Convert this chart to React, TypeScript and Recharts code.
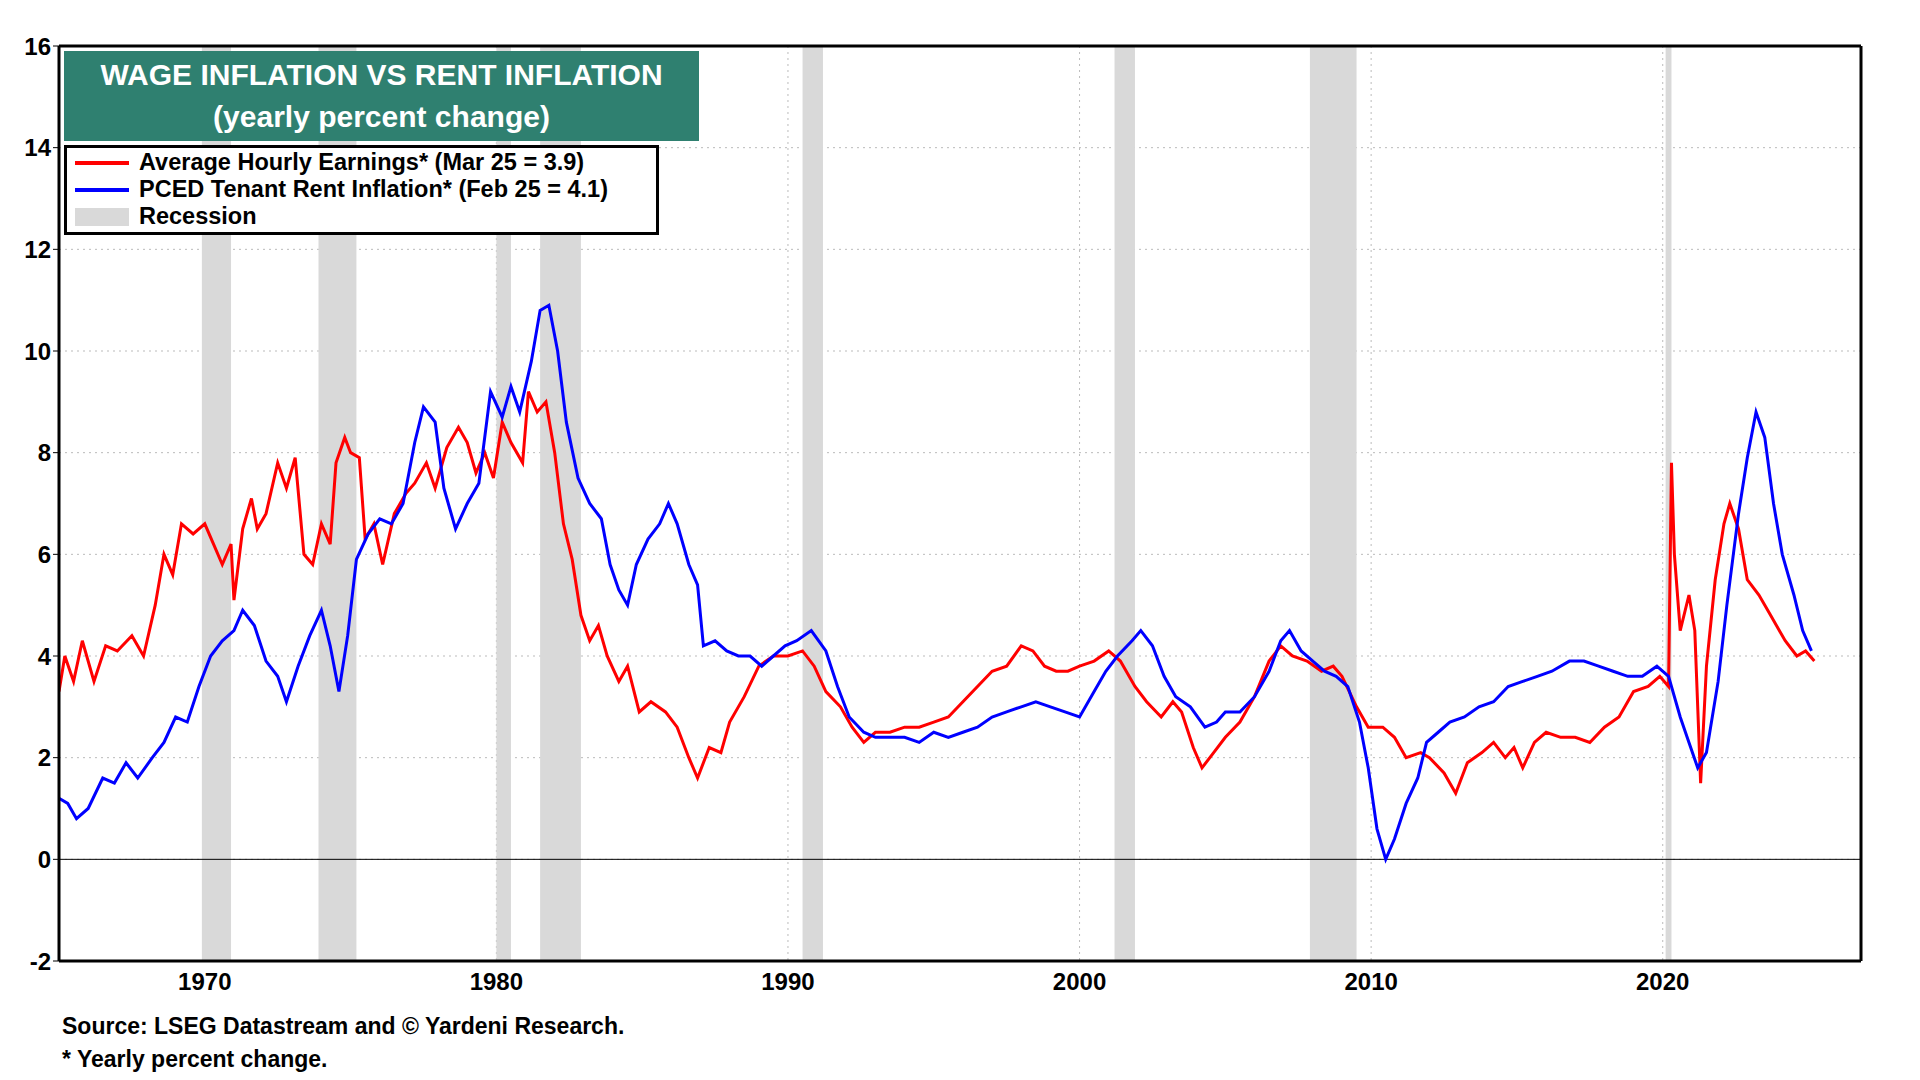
import React from 'react'
import { LineChart, Line, XAxis, YAxis, CartesianGrid, ReferenceArea, ReferenceLine } from 'recharts'

// [year, value]
const ahe: [number, number][] = [
  [1965.0, 3.3], [1965.2, 4.0], [1965.5, 3.5], [1965.8, 4.3], [1966.2, 3.5], [1966.6, 4.2], [1967.0, 4.1], [1967.5, 4.4], [1967.9, 4.0],
  [1968.3, 5.0], [1968.6, 6.0], [1968.9, 5.6], [1969.2, 6.6], [1969.6, 6.4], [1970.0, 6.6], [1970.3, 6.2], [1970.6, 5.8], [1970.9, 6.2],
  [1971.0, 5.1], [1971.3, 6.5], [1971.6, 7.1], [1971.8, 6.5], [1972.1, 6.8], [1972.5, 7.8], [1972.8, 7.3], [1973.1, 7.9], [1973.4, 6.0],
  [1973.7, 5.8], [1974.0, 6.6], [1974.3, 6.2], [1974.5, 7.8], [1974.8, 8.3], [1975.0, 8.0], [1975.3, 7.9], [1975.5, 6.3], [1975.8, 6.6],
  [1976.1, 5.8], [1976.5, 6.8], [1976.9, 7.2], [1977.2, 7.4], [1977.6, 7.8], [1977.9, 7.3], [1978.3, 8.1], [1978.7, 8.5], [1979.0, 8.2],
  [1979.3, 7.6], [1979.6, 8.0], [1979.9, 7.5], [1980.2, 8.6], [1980.5, 8.2], [1980.9, 7.8], [1981.1, 9.2], [1981.4, 8.8], [1981.7, 9.0],
  [1982.0, 8.0], [1982.3, 6.6], [1982.6, 5.9], [1982.9, 4.8], [1983.2, 4.3], [1983.5, 4.6], [1983.8, 4.0], [1984.2, 3.5], [1984.5, 3.8],
  [1984.9, 2.9], [1985.3, 3.1], [1985.8, 2.9], [1986.2, 2.6], [1986.6, 2.0], [1986.9, 1.6], [1987.3, 2.2], [1987.7, 2.1], [1988.0, 2.7],
  [1988.5, 3.2], [1989.0, 3.8], [1989.5, 4.0], [1990.0, 4.0], [1990.5, 4.1], [1990.9, 3.8], [1991.3, 3.3], [1991.8, 3.0], [1992.2, 2.6],
  [1992.6, 2.3], [1993.0, 2.5], [1993.5, 2.5], [1994.0, 2.6], [1994.5, 2.6], [1995.0, 2.7], [1995.5, 2.8], [1996.0, 3.1], [1996.5, 3.4],
  [1997.0, 3.7], [1997.5, 3.8], [1998.0, 4.2], [1998.4, 4.1], [1998.8, 3.8], [1999.2, 3.7], [1999.6, 3.7], [2000.0, 3.8], [2000.5, 3.9],
  [2001.0, 4.1], [2001.4, 3.9], [2001.9, 3.4], [2002.3, 3.1], [2002.8, 2.8], [2003.2, 3.1], [2003.5, 2.9], [2003.9, 2.2], [2004.2, 1.8],
  [2004.6, 2.1], [2005.0, 2.4], [2005.5, 2.7], [2006.0, 3.2], [2006.5, 3.9], [2006.9, 4.2], [2007.3, 4.0], [2007.8, 3.9], [2008.3, 3.7],
  [2008.7, 3.8], [2009.0, 3.6], [2009.5, 3.0], [2009.9, 2.6], [2010.4, 2.6], [2010.8, 2.4], [2011.2, 2.0], [2011.7, 2.1], [2012.0, 2.0],
  [2012.5, 1.7], [2012.9, 1.3], [2013.3, 1.9], [2013.8, 2.1], [2014.2, 2.3], [2014.6, 2.0], [2014.9, 2.2], [2015.2, 1.8], [2015.6, 2.3],
  [2016.0, 2.5], [2016.5, 2.4], [2017.0, 2.4], [2017.5, 2.3], [2018.0, 2.6], [2018.5, 2.8], [2019.0, 3.3], [2019.5, 3.4], [2019.9, 3.6],
  [2020.2, 3.4], [2020.3, 7.8], [2020.4, 6.0], [2020.6, 4.5], [2020.9, 5.2], [2021.1, 4.5], [2021.3, 1.5], [2021.5, 3.8], [2021.8, 5.5],
  [2022.1, 6.6], [2022.3, 7.0], [2022.6, 6.5], [2022.9, 5.5], [2023.3, 5.2], [2023.7, 4.8], [2024.2, 4.3], [2024.6, 4.0], [2024.9, 4.1],
  [2025.2, 3.9],
]

const rent: [number, number][] = [
  [1965.0, 1.2], [1965.3, 1.1], [1965.6, 0.8], [1966.0, 1.0], [1966.5, 1.6], [1966.9, 1.5], [1967.3, 1.9], [1967.7, 1.6], [1968.2, 2.0],
  [1968.6, 2.3], [1969.0, 2.8], [1969.4, 2.7], [1969.8, 3.4], [1970.2, 4.0], [1970.6, 4.3], [1971.0, 4.5], [1971.3, 4.9], [1971.7, 4.6],
  [1972.1, 3.9], [1972.5, 3.6], [1972.8, 3.1], [1973.2, 3.8], [1973.6, 4.4], [1974.0, 4.9], [1974.3, 4.2], [1974.6, 3.3], [1974.9, 4.4],
  [1975.2, 5.9], [1975.6, 6.4], [1976.0, 6.7], [1976.4, 6.6], [1976.8, 7.0], [1977.2, 8.2], [1977.5, 8.9], [1977.9, 8.6], [1978.2, 7.3],
  [1978.6, 6.5], [1979.0, 7.0], [1979.4, 7.4], [1979.8, 9.2], [1980.2, 8.7], [1980.5, 9.3], [1980.8, 8.8], [1981.2, 9.8], [1981.5, 10.8],
  [1981.8, 10.9], [1982.1, 10.0], [1982.4, 8.6], [1982.8, 7.5], [1983.2, 7.0], [1983.6, 6.7], [1983.9, 5.8], [1984.2, 5.3], [1984.5, 5.0],
  [1984.8, 5.8], [1985.2, 6.3], [1985.6, 6.6], [1985.9, 7.0], [1986.2, 6.6], [1986.6, 5.8], [1986.9, 5.4], [1987.1, 4.2], [1987.5, 4.3],
  [1987.9, 4.1], [1988.3, 4.0], [1988.7, 4.0], [1989.1, 3.8], [1989.5, 4.0], [1989.9, 4.2], [1990.3, 4.3], [1990.8, 4.5], [1991.3, 4.1],
  [1991.7, 3.4], [1992.1, 2.8], [1992.6, 2.5], [1993.0, 2.4], [1993.5, 2.4], [1994.0, 2.4], [1994.5, 2.3], [1995.0, 2.5], [1995.5, 2.4],
  [1996.0, 2.5], [1996.5, 2.6], [1997.0, 2.8], [1997.5, 2.9], [1998.0, 3.0], [1998.5, 3.1], [1999.0, 3.0], [1999.5, 2.9], [2000.0, 2.8],
  [2000.5, 3.3], [2000.9, 3.7], [2001.3, 4.0], [2001.8, 4.3], [2002.1, 4.5], [2002.5, 4.2], [2002.9, 3.6], [2003.3, 3.2], [2003.8, 3.0],
  [2004.3, 2.6], [2004.7, 2.7], [2005.0, 2.9], [2005.5, 2.9], [2006.0, 3.2], [2006.5, 3.7], [2006.9, 4.3], [2007.2, 4.5], [2007.6, 4.1],
  [2008.0, 3.9], [2008.4, 3.7], [2008.8, 3.6], [2009.2, 3.4], [2009.6, 2.7], [2009.9, 1.8], [2010.2, 0.6], [2010.5, 0.0], [2010.8, 0.4],
  [2011.2, 1.1], [2011.6, 1.6], [2011.9, 2.3], [2012.3, 2.5], [2012.7, 2.7], [2013.2, 2.8], [2013.7, 3.0], [2014.2, 3.1], [2014.7, 3.4],
  [2015.2, 3.5], [2015.7, 3.6], [2016.2, 3.7], [2016.8, 3.9], [2017.3, 3.9], [2017.8, 3.8], [2018.3, 3.7], [2018.8, 3.6], [2019.3, 3.6],
  [2019.8, 3.8], [2020.2, 3.6], [2020.6, 2.8], [2020.9, 2.3], [2021.2, 1.8], [2021.5, 2.1], [2021.9, 3.5], [2022.2, 5.0], [2022.6, 6.8],
  [2022.9, 7.9], [2023.2, 8.8], [2023.5, 8.3], [2023.8, 7.0], [2024.1, 6.0], [2024.5, 5.2], [2024.8, 4.5], [2025.1, 4.1],
]

const recessions: [number, number][] = [
  [1969.9, 1970.9], [1973.9, 1975.2], [1980.0, 1980.5], [1981.5, 1982.9], [1990.5, 1991.2],
  [2001.2, 2001.9], [2007.9, 2009.5], [2020.1, 2020.3],
]

const xTicks = [1970, 1980, 1990, 2000, 2010, 2020]
const yTicks = [-2, 0, 2, 4, 6, 8, 10, 12, 14, 16]

const aheData = ahe.map(([x, v]) => ({ x, v }))
const rentData = rent.map(([x, v]) => ({ x, v }))

const font = '"Liberation Sans", Arial, sans-serif'
const tick = { fontSize: 24, fontWeight: 700, fill: '#000', fontFamily: font }

export default function App() {
  return (
    <div style={{ position: 'absolute', left: 0, top: 0, width: 1920, height: 1080, background: '#fff', fontFamily: font }}>
      <LineChart width={1920} height={1080} margin={{ top: 46, right: 9, left: 9, bottom: 89 }}>
        <CartesianGrid yAxisId="l" stroke="#bbb" strokeDasharray="2 4" verticalValues={xTicks} horizontalValues={yTicks} />
        <XAxis dataKey="x" type="number" domain={[1965, 2026.8]} ticks={xTicks} allowDataOverflow
          tick={tick} tickLine={false} axisLine={{ stroke: '#000', strokeWidth: 3 }} tickMargin={6} />
        <YAxis yAxisId="l" domain={[-2, 16]} ticks={yTicks} width={50} tick={tick}
          axisLine={{ stroke: '#000', strokeWidth: 3 }} tickLine={{ stroke: '#000' }} />
        <YAxis yAxisId="r" orientation="right" domain={[-2, 16]} ticks={yTicks} width={50} tick={tick}
          axisLine={{ stroke: '#000', strokeWidth: 3 }} tickLine={{ stroke: '#000' }} />
        {recessions.map(([a, b], i) => (
          <ReferenceArea key={i} yAxisId="l" x1={a} x2={b} y1={-2} y2={16} fill="#d9d9d9" fillOpacity={1} stroke="none" />
        ))}
        <ReferenceLine yAxisId="l" y={0} stroke="#000" strokeWidth={1} />
        <ReferenceLine yAxisId="l" y={16} stroke="#000" strokeWidth={3} />
        <Line yAxisId="l" data={aheData} dataKey="v" stroke="#ff0000" strokeWidth={3} dot={false} isAnimationActive={false} />
        <Line yAxisId="l" data={rentData} dataKey="v" stroke="#0000ff" strokeWidth={3} dot={false} isAnimationActive={false} />
      </LineChart>
      <div style={{ position: 'absolute', left: 64, top: 51, width: 635, height: 90, background: '#2f8070', color: '#fff',
        fontWeight: 700, fontSize: 30, textAlign: 'center', lineHeight: '42px', paddingTop: 3, boxSizing: 'border-box' }}>
        <div>WAGE INFLATION VS RENT INFLATION</div>
        <div>(yearly percent change)</div>
      </div>
      <div style={{ position: 'absolute', left: 64, top: 145, width: 595, height: 90, background: '#fff', border: '3px solid #000',
        boxSizing: 'border-box', fontWeight: 700, fontSize: 23.5, lineHeight: '27px', padding: '1px 0 0 8px' }}>
        {[['#ff0000', 'Average Hourly Earnings* (Mar 25 = 3.9)', 4], ['#0000ff', 'PCED Tenant Rent Inflation* (Feb 25 = 4.1)', 4],
          ['#d9d9d9', 'Recession', 18]].map(([c, t, h]) => (
          <div key={t as string} style={{ display: 'flex', alignItems: 'center' }}>
            <span style={{ display: 'inline-block', width: 54, height: h as number, background: c as string, marginRight: 10 }} />
            {t}
          </div>
        ))}
      </div>
      <div style={{ position: 'absolute', left: 62, top: 1010, fontWeight: 700, fontSize: 23, lineHeight: '33px' }}>
        <div>Source: LSEG Datastream and © Yardeni Research.</div>
        <div>* Yearly percent change.</div>
      </div>
    </div>
  )
}
